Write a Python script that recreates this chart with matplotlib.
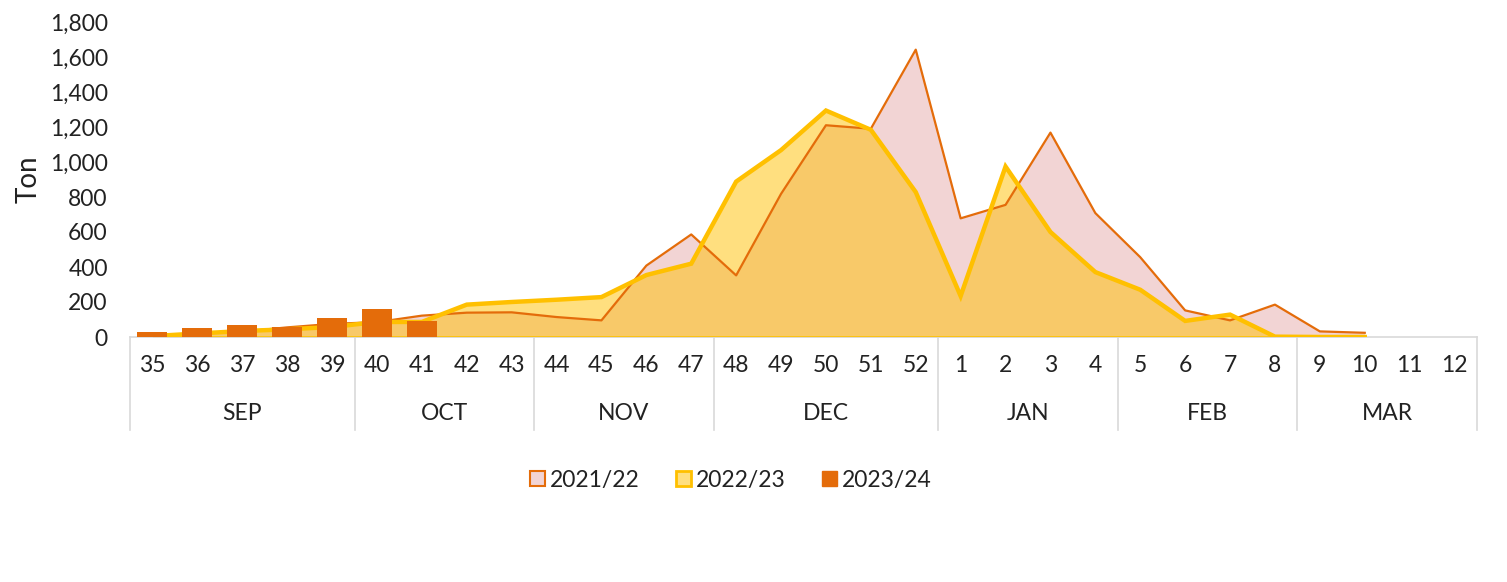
import numpy as np
import matplotlib.pyplot as plt
from matplotlib.patches import Patch
from matplotlib.ticker import FuncFormatter

plt.rcParams['font.family'] = ['Lato', 'DejaVu Sans']

weeks = [35, 36, 37, 38, 39, 40, 41, 42, 43, 44, 45, 46, 47, 48, 49, 50, 51, 52,
         1, 2, 3, 4, 5, 6, 7, 8, 9, 10, 11, 12]
months = ["SEP", "OCT", "NOV", "DEC", "JAN", "FEB", "MAR"]
month_len = [5, 4, 4, 5, 4, 4, 4]

# 2021/22 and 2022/23 end at week 10
s2122 = [10, 20, 30, 55, 75, 85, 122, 139, 141, 114, 95, 408, 586, 352, 818, 1210, 1190, 1642,
         678, 755, 1168, 708, 456, 152, 95, 185, 32, 24]
s2223 = [5, 20, 34, 44, 57, 86, 86, 185, 200, 213, 228, 354, 419, 888, 1068, 1294, 1184, 828,
         234, 974, 600, 371, 270, 92, 128, 2, 0, 0]
# 2023/24 only up to week 41
s2324 = [30, 52, 68, 56, 106, 160, 92]

orange = "#E46C0A"
pink = "#F2D4D4"
yellow = "#FFC000"
txt = "#222222"
fs = 16.5

fig = plt.figure(figsize=(15.07, 5.82), dpi=100)
ax = fig.add_axes([130 / 1507, 1 - 337 / 582, (1477 - 130) / 1507, (337 - 22) / 582])

x1 = np.arange(len(s2122))
x2 = np.arange(len(s2223))
x3 = np.arange(len(s2324))

ax.fill_between(x1, 0, s2122, color=pink, lw=0, zorder=1)
ax.plot(x1, s2122, color=orange, lw=1.6, zorder=3)
ax.fill_between(x2, 0, s2223, color=yellow, alpha=0.5, lw=0, zorder=2)
ax.plot(x2, s2223, color=yellow, lw=3.2, zorder=4, solid_joinstyle="miter")
ax.plot([x2[0], x2[-1]], [0, 0], color=yellow, lw=2, zorder=4)
ax.bar(x3, s2324, width=0.67, color=orange, zorder=5)

ax.set_xlim(-0.5, len(weeks) - 0.5)
ax.set_ylim(0, 1800)
ax.set_yticks(np.arange(0, 1801, 200))
ax.yaxis.set_major_formatter(FuncFormatter(lambda v, p: f"{int(v):,}"))
ax.tick_params(axis="y", length=0, pad=16, labelsize=fs, labelcolor=txt)
ax.set_ylabel("Ton", fontsize=20, color=txt, labelpad=6)

ax.set_xticks(np.arange(len(weeks)))
ax.set_xticklabels([str(w) for w in weeks])
ax.tick_params(axis="x", length=0, pad=13, labelsize=fs, labelcolor=txt)

for s in ["top", "right", "left"]:
    ax.spines[s].set_visible(False)
ax.spines["bottom"].set_color("#D9D9D9")
ax.spines["bottom"].set_linewidth(1.2)

# month group labels and separators below the axis
trans = ax.get_xaxis_transform()
edges = np.concatenate([[0], np.cumsum(month_len)]) - 0.5
sep_bottom = -(430 - 337) / 315
for e in edges:
    ax.plot([e, e], [0, sep_bottom], transform=trans, color="#D9D9D9", lw=1.2,
            clip_on=False, zorder=0)
for i, m in enumerate(months):
    c = (edges[i] + edges[i + 1]) / 2
    ax.text(c, -(414 - 337) / 315, m, transform=trans, ha="center", va="center",
            fontsize=fs, color=txt)

handles = [
    Patch(facecolor=pink, edgecolor=orange, lw=1.5, label="2021/22"),
    Patch(facecolor="#FFDF80", edgecolor=yellow, lw=2, label="2022/23"),
    Patch(facecolor=orange, edgecolor=orange, label="2023/24"),
]
fig.legend(handles=handles, loc="center", bbox_to_anchor=(731 / 1507, 1 - 480 / 582),
           ncol=3, frameon=False, fontsize=fs, handlelength=0.65, handleheight=0.65,
           handletextpad=0.2, columnspacing=1.6, labelcolor=txt)

fig.savefig("out.png", dpi=100)
